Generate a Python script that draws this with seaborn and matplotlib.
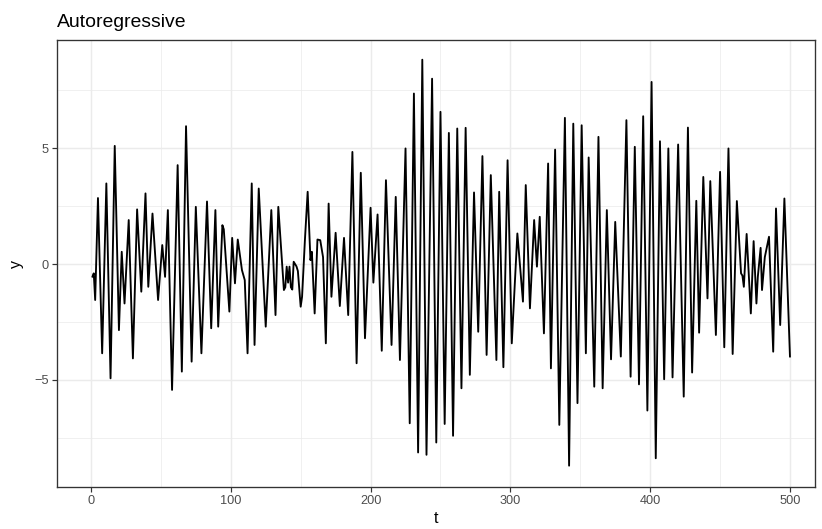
import matplotlib
matplotlib.use("Agg")
import matplotlib.pyplot as plt
from matplotlib.ticker import MultipleLocator
import numpy as np
import pandas as pd
import seaborn as sns

# Turning points of the simulated AR series (time index and value)
t_obs = [1, 2, 3, 5, 8, 11, 14, 17, 20, 22, 24, 27, 30, 33, 36, 39, 41, 44, 48, 51,
         53, 55, 58, 62, 65, 68, 72, 75, 79, 83, 86, 89, 91, 94, 95, 99, 101, 103, 105, 108,
         110, 112, 115, 117, 120, 125, 129, 132, 134, 138, 139, 140, 141, 142, 143, 144, 145, 147, 148, 150,
         151, 153, 155, 157, 158, 160, 162, 164, 166, 168, 170, 172, 175, 178, 181, 184, 187, 190, 193, 196,
         200, 202, 205, 208, 211, 215, 218, 221, 225, 228, 231, 234, 237, 240, 244, 247, 250, 253, 256, 259,
         262, 265, 268, 271, 274, 277, 280, 283, 286, 290, 292, 295, 298, 301, 305, 309, 311, 314, 317, 319,
         321, 324, 327, 329, 332, 335, 339, 342, 345, 348, 351, 354, 356, 360, 363, 366, 369, 372, 375, 379,
         383, 386, 389, 392, 395, 398, 401, 404, 407, 410, 413, 416, 420, 424, 427, 430, 433, 435, 438, 441,
         443, 447, 450, 453, 456, 459, 462, 465, 466, 467, 469, 472, 474, 476, 477, 479, 480, 482, 485, 488,
         490, 493, 496, 500]
y_obs = [-0.55, -0.40, -1.55, 2.85, -3.85, 3.48, -4.93, 5.10, -2.85, 0.53, -1.70, 1.90, -4.07, 2.36, -1.19, 3.05, -0.98, 2.18, -1.55, 0.82,
         -0.55, 2.33, -5.43, 4.27, -4.64, 5.95, -4.21, 2.47, -3.85, 2.70, -2.77, 2.33, -2.70, 1.68, 1.50, -2.05, 1.13, -0.83, 1.06, -0.26,
         -0.69, -3.85, 3.48, -3.49, 3.26, -2.70, 2.33, -2.20, 2.47, -1.12, -1.00, -0.11, -0.80, -0.11, -1.00, -1.10, 0.10, -0.10, -0.30, -1.84,
         -1.41, 1.00, 3.12, 0.17, 0.53, -2.13, 1.06, 1.03, 0.30, -3.42, 2.61, -1.41, 1.35, -1.81, 1.13, -2.20, 4.84, -4.28, 3.94, -3.20,
         2.43, -0.80, 2.14, -3.74, 3.62, -3.49, 2.90, -4.14, 4.99, -6.87, 7.36, -8.13, 8.82, -8.23, 8.00, -7.70, 6.57, -6.90, 5.66, -7.41,
         5.85, -5.36, 5.88, -4.78, 3.09, -2.92, 4.66, -3.92, 3.84, -4.14, 3.12, -4.45, 4.48, -3.42, 1.32, -1.62, 3.41, -1.91, 1.90, -0.11,
         2.04, -2.99, 4.34, -4.50, 4.94, -6.94, 6.31, -8.70, 6.06, -6.00, 5.99, -3.85, 4.60, -5.29, 5.49, -5.36, 2.33, -4.11, 1.82, -3.99,
         6.21, -4.86, 5.06, -5.19, 6.38, -6.32, 7.86, -8.38, 5.30, -4.97, 4.99, -4.89, 5.16, -5.72, 5.89, -4.68, 2.73, -2.96, 3.76, -1.48,
         3.58, -3.06, 3.98, -3.59, 4.99, -3.88, 2.72, -0.40, -0.50, -0.98, 1.30, -2.13, 0.99, -1.70, -0.55, 0.70, -1.12, 0.30, 1.18, -3.78,
         2.40, -2.63, 2.83, -4.00]

x_ticks = [0, 100, 200, 300, 400, 500]
y_ticks = [-5, 0, 5]
y_tick_labels = ["\u22125", "0", "5"]

df = pd.DataFrame({"t": t_obs, "y": y_obs})

sns.set_theme(style="white")
plt.rcParams["font.family"] = ["Liberation Sans", "DejaVu Sans"]

dpi = 96
fig = plt.figure(figsize=(822 / dpi, 529 / dpi), dpi=dpi)
left_px, right_px, top_px, bottom_px = 57, 815, 40, 487
ax = fig.add_axes([left_px / 822, 1 - bottom_px / 529,
                   (right_px - left_px) / 822, (bottom_px - top_px) / 529])

sns.lineplot(data=df, x="t", y="y", ax=ax, color="black", linewidth=1.4,
             estimator=None, sort=False)

ax.set_xlim(-24.3, 517.9)
ax.set_ylim(-9.62, 9.67)

ax.set_xticks(x_ticks)
ax.set_yticks(y_ticks)
ax.set_yticklabels(y_tick_labels)
ax.xaxis.set_minor_locator(MultipleLocator(50))
ax.yaxis.set_minor_locator(MultipleLocator(2.5))

ax.set_facecolor("white")
ax.set_axisbelow(True)
ax.grid(which="major", color="#EBEBEB", linewidth=1.1)
ax.grid(which="minor", color="#EBEBEB", linewidth=0.55)
for s in ax.spines.values():
    s.set_color("#333333")
    s.set_linewidth(1.0)

ax.tick_params(which="major", length=3.5, width=0.9, color="#333333",
               labelsize=9.6, labelcolor="#4D4D4D", pad=2.5,
               bottom=True, left=True)
ax.tick_params(which="minor", length=0)

ax.set_xlabel("t", fontsize=12, color="black", labelpad=3)
ax.set_ylabel("y", fontsize=12, color="black", labelpad=8)
ax.set_title("Autoregressive", fontsize=14.5, color="black", loc="left", pad=10)

fig.savefig("out.png", dpi=dpi, facecolor="white")
